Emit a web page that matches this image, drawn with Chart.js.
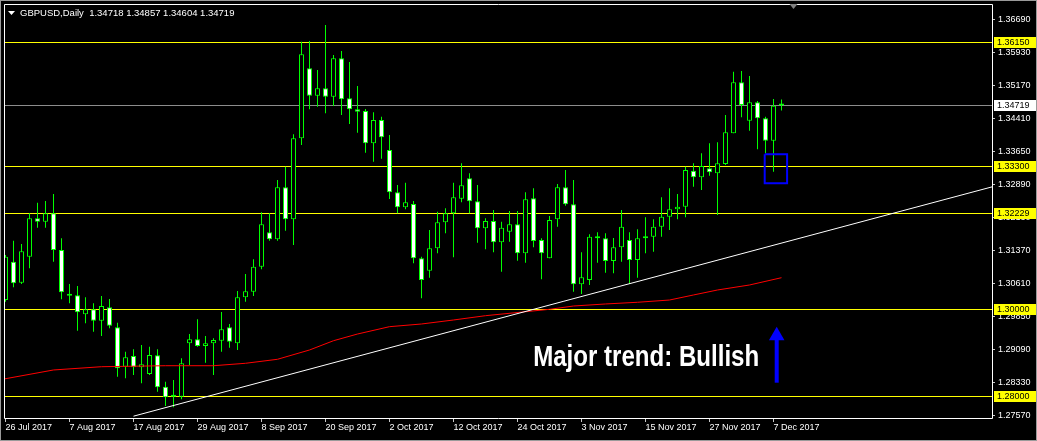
<!DOCTYPE html>
<html>
<head>
<meta charset="utf-8">
<title>GBPUSD Daily</title>
<script src="https://cdn.jsdelivr.net/npm/chart.js@4.4.1/dist/chart.umd.min.js"></script>
<style>
  html, body { margin: 0; padding: 0; background: #000; }
  #myChart { display: block; }
</style>
</head>
<body>
<canvas id="myChart" width="1037" height="441"></canvas>
<script>
// chart data
const symbol = "GBPUSD";
const timeframe = "Daily";

// one bar per trading day, first bar = 26 Jul 2017, last = 8 Dec 2017
const opens = [1.30241,1.31124,1.30641,1.31239,1.32122,1.32045,1.32237,1.31393,1.30372,1.30349,
  1.29911,1.30026,1.29765,1.30072,1.29612,1.28706,1.28952,1.28691,1.28537,1.28967,
  1.28245,1.28030,1.28015,1.29243,1.29335,1.29182,1.29243,1.29305,1.29612,1.29243,
  1.30303,1.30433,1.31009,1.31800,1.31639,1.32836,1.32099,1.33965,1.35577,1.34947,
  1.35116,1.34924,1.35807,1.34886,1.34633,1.34594,1.33850,1.34387,1.33696,1.32721,
  1.32376,1.32452,1.31201,1.30917,1.31431,1.32030,1.32237,1.32575,1.33043,1.32514,
  1.31892,1.32061,1.31569,1.31815,1.31984,1.31316,1.32583,1.31623,1.31201,1.32099,
  1.32836,1.32445,1.30602,1.30702,1.31700,1.31662,1.31140,1.31454,1.31623,1.31163,
  1.31708,1.31700,1.31930,1.32161,1.32330,1.32391,1.33220,1.33067,1.33274,1.33159,
  1.33373,1.34080,1.35254,1.34372,1.34794,1.34425,1.33911,1.34718];
const highs = [1.31278,1.31608,1.31531,1.32237,1.32483,1.32521,1.32683,1.31662,1.30610,1.30564,
  1.30303,1.30165,1.30333,1.30264,1.29719,1.29051,1.29105,1.29205,1.29167,1.29105,
  1.28361,1.28399,1.28898,1.29458,1.29796,1.29412,1.29359,1.29965,1.29689,1.30449,
  1.30840,1.31178,1.32260,1.32237,1.33005,1.33312,1.34057,1.36191,1.36206,1.35538,
  1.36575,1.35884,1.35976,1.35723,1.35170,1.34640,1.34564,1.34464,1.34041,1.32890,
  1.32944,1.32521,1.31239,1.31854,1.32276,1.32353,1.32944,1.33389,1.33159,1.32890,
  1.32122,1.32314,1.32045,1.32291,1.32291,1.32721,1.32813,1.31662,1.32176,1.32913,
  1.33235,1.33005,1.31339,1.31754,1.31800,1.31777,1.31669,1.32314,1.31800,1.31869,
  1.32145,1.32099,1.32606,1.32813,1.32683,1.33312,1.33389,1.33619,1.33850,1.33872,
  1.34502,1.35500,1.35515,1.35400,1.34825,1.34464,1.34871,1.34857];
const lows = [1.30203,1.30533,1.30610,1.30971,1.31907,1.31907,1.31124,1.30257,1.30165,1.29535,
  1.29704,1.29512,1.29412,1.29589,1.28476,1.28437,1.28514,1.28322,1.28514,1.28130,
  1.27800,1.27769,1.27954,1.28744,1.29167,1.28798,1.28514,1.29051,1.29144,1.29090,
  1.30203,1.30333,1.30948,1.31608,1.31608,1.31838,1.31508,1.33811,1.34633,1.34694,
  1.34540,1.34709,1.34502,1.34295,1.34095,1.33635,1.33427,1.33496,1.32568,1.32237,
  1.32330,1.31086,1.30280,1.30756,1.31316,1.31777,1.31224,1.32491,1.32237,1.31562,
  1.31408,1.31339,1.30894,1.31585,1.31147,1.31101,1.31454,1.30717,1.31201,1.31930,
  1.32414,1.30433,1.30380,1.30587,1.31101,1.30871,1.30856,1.31124,1.30610,1.30756,
  1.31316,1.31355,1.31700,1.31854,1.32099,1.32145,1.32852,1.32775,1.33105,1.32199,
  1.33351,1.34080,1.34448,1.34141,1.33711,1.33619,1.33197,1.34604];
const closes = [1.31239,1.30625,1.31362,1.32122,1.32045,1.32237,1.31393,1.30418,1.30341,1.29957,
  1.30026,1.29765,1.30103,1.29650,1.28668,1.28921,1.28691,1.28760,1.28975,1.28230,
  1.28000,1.28015,1.28783,1.29335,1.29182,1.29243,1.29320,1.29566,1.29282,1.30303,
  1.30441,1.31009,1.31984,1.31639,1.32836,1.32099,1.33965,1.35899,1.34947,1.35116,
  1.34924,1.35807,1.34863,1.34633,1.34579,1.33850,1.34387,1.33988,1.32721,1.32376,
  1.32491,1.31201,1.30702,1.31431,1.32030,1.32237,1.32606,1.32882,1.32514,1.31892,
  1.32061,1.31569,1.31907,1.31984,1.31316,1.32560,1.31600,1.31316,1.32084,1.32836,
  1.32445,1.30602,1.30763,1.31700,1.31662,1.31140,1.31454,1.31930,1.31163,1.31662,
  1.31662,1.31930,1.32161,1.32330,1.32391,1.33235,1.33067,1.33327,1.33182,1.33389,
  1.34103,1.35254,1.34732,1.34794,1.34425,1.33911,1.34717,1.34719];

// date labels on the time axis, one every 8 bars starting at bar 0
const tickLabels = ["26 Jul 2017","7 Aug 2017","17 Aug 2017","29 Aug 2017","8 Sep 2017",
  "20 Sep 2017","2 Oct 2017","12 Oct 2017","24 Oct 2017","3 Nov 2017","15 Nov 2017",
  "27 Nov 2017","7 Dec 2017"];
const barsPerLabel = 8;

// price scale labels
const yTicks = [1.36690,1.35930,1.35170,1.34410,1.33650,1.32890,1.32130,1.31370,
  1.30610,1.29850,1.29090,1.28330,1.27570];

// horizontal levels + current bid
const yellowLevels = [1.36150,1.33300,1.32229,1.30000,1.28000];
const bidLevel = 1.34719;

// moving average (red), sampled along the line
const maBars = [-0.2,6,12,20,26,30,34,38,41,44,48,52,56,60,68,71,75,79,83,86,89,93,97];
const maValues = [1.28422,1.28630,1.28705,1.28728,1.28728,1.28784,1.28876,1.29090,1.29304,
  1.29458,1.29627,1.29689,1.29781,1.29880,1.30027,1.30103,1.30150,1.30189,1.30241,
  1.30357,1.30472,1.30587,1.30755];

// white trend line, two anchor points
const trendBars = [16,123.4];
const trendValues = [1.27566,1.32851];

// blue box around the last pullback
const boxBars = [94.9,97.7,97.7,94.9,94.9];
const boxValues = [1.33597,1.33597,1.32929,1.32929,1.33597];

// blue arrow + caption
const arrowBars = [96.4,96.4];
const arrowValues = [1.28337,1.29320];
const arrowHead = {x: 96.4, y: 1.29419};
const caption = "Major trend: Bullish";
const captionAt = {x: 65.96, y: 1.28728};

// visible range
const xMin = -0.1875, xMax = 123.3125;
const yMin = 1.275239, yMax = 1.370354;

const bullColor = "#000000";
const bearColor = "#ffffff";
const candleLine = "#00ff00";

const barIdx = opens.map((o, i) => i);
const wickData = barIdx.map(i => ({x: i, y: [lows[i], highs[i]]}));
const bodyData = barIdx.map(i => ({x: i, y: [opens[i], closes[i]]}));
const bodyColors = barIdx.map(i => closes[i] >= opens[i] ? bullColor : bearColor);

function pts(xs, ys) {
  return xs.map((v, i) => ({x: v, y: ys[i]}));
}

const mt4Look = {
  id: "mt4Look",
  beforeDraw(chart) {
    const ctx = chart.ctx;
    ctx.save();
    ctx.fillStyle = "#000";
    ctx.fillRect(0, 0, chart.width, chart.height);
    ctx.restore();
  },
  beforeDatasetsDraw(chart) {
    const {ctx, chartArea: a, scales: {y}} = chart;
    ctx.save();
    const hline = (v) => {
      const py = Math.round(y.getPixelForValue(v)) - 1;
      ctx.fillRect(a.left, py, a.right - a.left, 1);
    };
    ctx.fillStyle = "#8c8c8c";
    hline(bidLevel);
    ctx.fillStyle = "#ffff00";
    yellowLevels.forEach(hline);
    ctx.restore();
  },
  afterDraw(chart) {
    const {ctx, chartArea: a, scales: {x, y}} = chart;
    ctx.save();

    // window frame + chart frame
    ctx.lineWidth = 1;
    ctx.strokeStyle = "#9a9a9a";
    ctx.strokeRect(0.5, 0.5, chart.width - 1, chart.height - 1);
    ctx.strokeStyle = "#ffffff";
    ctx.beginPath();
    ctx.moveTo(a.left + 0.5, a.top - 0.5);
    ctx.lineTo(a.right + 0.5, a.top - 0.5);
    ctx.lineTo(a.right + 0.5, a.bottom + 0.5);
    ctx.lineTo(a.left + 0.5, a.bottom + 0.5);
    ctx.closePath();
    ctx.stroke();

    // level price boxes on the price axis
    ctx.font = '9px "Liberation Sans"';
    ctx.textBaseline = "middle";
    ctx.textAlign = "left";
    const tag = (v, bg) => {
      const py = Math.round(y.getPixelForValue(v));
      ctx.fillStyle = bg;
      ctx.fillRect(a.right + 2, py - 6, 42, 11);
      ctx.fillStyle = "#000";
      ctx.fillText(v.toFixed(5), a.right + 5, py);
    };
    yellowLevels.forEach(v => tag(v, "#ffff00"));
    tag(bidLevel, "#ffffff");

    // header line
    const last = opens.length - 1;
    ctx.fillStyle = "#ffffff";
    ctx.beginPath();
    ctx.moveTo(8, 11);
    ctx.lineTo(15, 11);
    ctx.lineTo(11.5, 15);
    ctx.closePath();
    ctx.fill();
    ctx.font = '9.5px "Liberation Sans"';
    ctx.fillText(symbol + "," + timeframe + "  " + opens[last].toFixed(5) + " " +
      highs[last].toFixed(5) + " " + lows[last].toFixed(5) + " " + closes[last].toFixed(5), 20, 13);

    // chart shift marker
    const sx = x.getPixelForValue(last + 1.5);
    ctx.fillStyle = "#808080";
    ctx.beginPath();
    ctx.moveTo(sx - 4, a.top - 1);
    ctx.lineTo(sx + 4, a.top - 1);
    ctx.lineTo(sx, a.top + 4);
    ctx.closePath();
    ctx.fill();

    // caption
    ctx.font = 'bold 30px "Liberation Sans"';
    ctx.textBaseline = "alphabetic";
    ctx.fillStyle = "#ffffff";
    const w = ctx.measureText(caption).width;
    ctx.translate(x.getPixelForValue(captionAt.x), y.getPixelForValue(captionAt.y));
    ctx.scale(226 / w, 1);
    ctx.fillText(caption, 0, 0);
    ctx.restore();
  }
};

new Chart("myChart", {
  type: "bar",
  data: {
    datasets: [
      {type: "line", data: pts(boxBars, boxValues), borderColor: "#0000ff", borderWidth: 2,
        pointRadius: 0, tension: 0, order: 0},
      {type: "line", data: pts(arrowBars, arrowValues), borderColor: "#0000ff", borderWidth: 4,
        pointRadius: 0, order: 0},
      {type: "line", data: [arrowHead], showLine: false, pointStyle: "triangle", pointRadius: 9,
        pointBackgroundColor: "#0000ff", pointBorderWidth: 0, order: 0},
      {type: "line", data: pts(trendBars, trendValues), borderColor: "#ffffff", borderWidth: 1,
        pointRadius: 0, order: 1},
      {type: "line", data: pts(maBars, maValues), borderColor: "#ff0000", borderWidth: 1,
        pointRadius: 0, tension: 0, order: 2},
      {data: bodyData, backgroundColor: bodyColors, borderColor: candleLine, borderWidth: 1,
        borderSkipped: false, barThickness: 5, minBarLength: 2, inflateAmount: 0, order: 5},
      {data: wickData, backgroundColor: candleLine, barThickness: 1, inflateAmount: 0, order: 6}
    ]
  },
  options: {
    responsive: false,
    animation: false,
    events: [],
    layout: {autoPadding: false, padding: {left: 4, top: 5, right: 0, bottom: 0}},
    datasets: {bar: {grouped: false}},
    plugins: {legend: {display: false}, tooltip: {enabled: false}},
    scales: {
      x: {
        type: "linear",
        min: xMin,
        max: xMax,
        offset: false,
        border: {display: false},
        grid: {offset: false, drawOnChartArea: false, drawTicks: true, tickLength: 4, color: "#c8c8c8"},
        ticks: {
          autoSkip: false, maxRotation: 0, align: "start", padding: 0,
          color: "#ffffff", font: {family: "Liberation Sans", size: 9},
          callback: (v, i) => tickLabels[i]
        },
        afterBuildTicks: s => { s.ticks = tickLabels.map((t, k) => ({value: k * barsPerLabel})); },
        afterFit: s => { s.height = 23; s.paddingLeft = 0; s.paddingRight = 0; }
      },
      y: {
        position: "right",
        min: yMin,
        max: yMax,
        border: {display: false},
        grid: {drawOnChartArea: false, drawTicks: true, tickLength: 3, color: "#c8c8c8"},
        ticks: {
          autoSkip: false, padding: 3,
          color: "#ffffff", font: {family: "Liberation Sans", size: 9},
          callback: v => v.toFixed(5)
        },
        afterBuildTicks: s => { s.ticks = yTicks.map(v => ({value: v})); },
        afterFit: s => { s.width = 45; s.paddingTop = 0; s.paddingBottom = 0; }
      }
    }
  },
  plugins: [mt4Look]
});
</script>
</body>
</html>
